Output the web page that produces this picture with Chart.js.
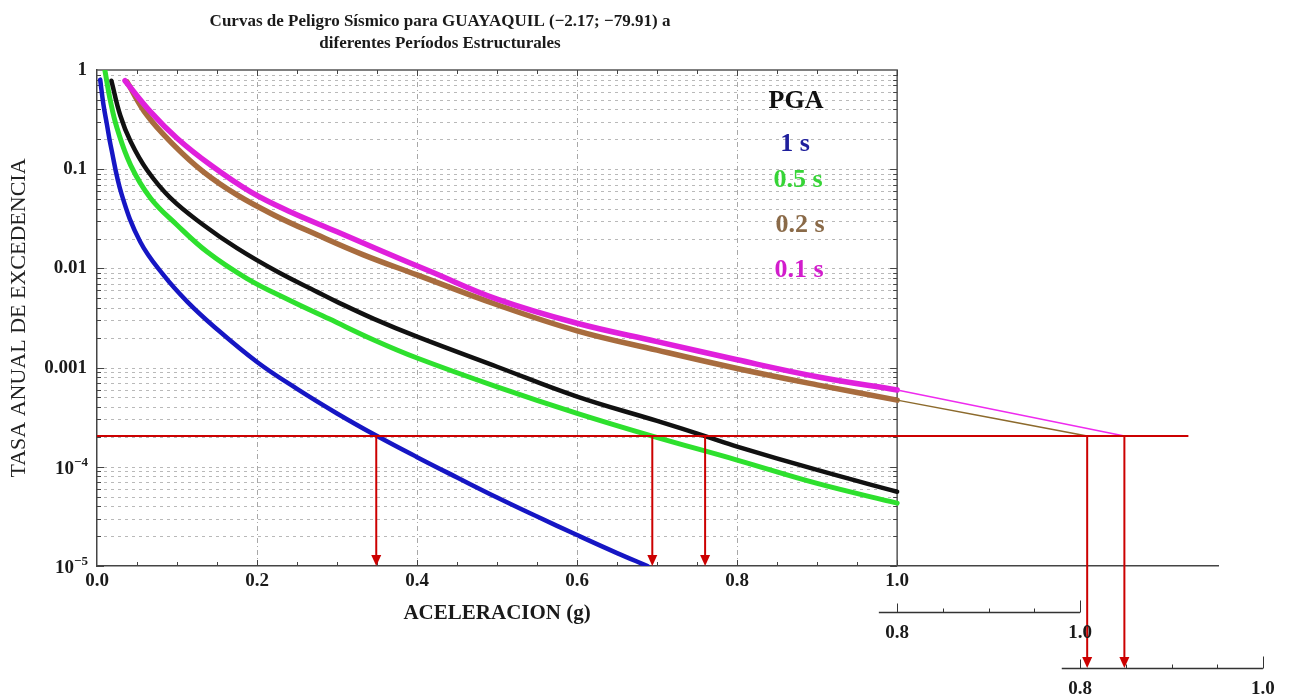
<!DOCTYPE html>
<html>
<head>
<meta charset="utf-8">
<script src="https://cdn.jsdelivr.net/npm/chart.js@4/dist/chart.umd.min.js"></script>
<style>
  html, body { margin: 0; padding: 0; background: #ffffff; }
  canvas { display: block; }
</style>
</head>
<body>
<canvas id="hazard" width="1295" height="698"></canvas>
<script>
// Hazard curves: annual exceedance rate vs spectral acceleration (g)
const pgaX   = [0.018, 0.029, 0.042, 0.0625, 0.092, 0.133, 0.175, 0.225, 0.275, 0.3, 0.346, 0.4, 0.5, 0.6, 0.7, 0.76, 0.8, 0.9, 1.0];
const pgaY   = [0.78, 0.35, 0.19, 0.098, 0.051, 0.0274, 0.016, 0.0093, 0.0058, 0.0046, 0.0031, 0.00205, 0.00102, 5.1e-4, 2.9e-4, 2.04e-4, 1.6e-4, 9.3e-5, 5.6e-5];

const t10X   = [0.004, 0.008, 0.0125, 0.017, 0.031, 0.054, 0.083, 0.113, 0.146, 0.2, 0.25, 0.3, 0.35, 0.4, 0.45, 0.5, 0.55, 0.6, 0.65, 0.688];
const t10Y   = [0.8, 0.45, 0.28, 0.175, 0.055, 0.0186, 0.0086, 0.0046, 0.0026, 0.00114, 6.1e-4, 3.45e-4, 2.04e-4, 1.25e-4, 7.8e-5, 4.9e-5, 3.15e-5, 2.05e-5, 1.35e-5, 1.0e-5];

const t05X   = [0.0098, 0.0167, 0.025, 0.042, 0.067, 0.1, 0.1375, 0.1875, 0.24, 0.29, 0.346, 0.4, 0.5, 0.6, 0.694, 0.8, 0.9, 1.0];
const t05Y   = [1.0, 0.49, 0.26, 0.11, 0.051, 0.0274, 0.0147, 0.0079, 0.0048, 0.0031, 0.0019, 0.00125, 6.4e-4, 3.46e-4, 2.04e-4, 1.17e-4, 6.8e-5, 4.3e-5];

const t02X   = [0.0375, 0.0625, 0.096, 0.133, 0.175, 0.221, 0.275, 0.333, 0.4, 0.5, 0.6, 0.7, 0.8, 0.9, 1.0];
const t02Y   = [0.76, 0.35, 0.175, 0.094, 0.055, 0.0346, 0.0218, 0.0137, 0.0086, 0.0043, 0.00235, 0.0015, 9.8e-4, 6.7e-4, 4.7e-4];

const t01X   = [0.035, 0.0667, 0.1, 0.142, 0.192, 0.242, 0.3, 0.358, 0.417, 0.5, 0.6, 0.7, 0.8, 0.9, 1.0];
const t01Y   = [0.78, 0.38, 0.205, 0.11, 0.059, 0.037, 0.0234, 0.0147, 0.0093, 0.0049, 0.0028, 0.00183, 0.0012, 8.1e-4, 5.95e-4];

// Continuations of the 0.2 s and 0.1 s curves down to the design rate
const ext02X = [1.0, 1.2375];
const ext02Y = [4.7e-4, 2.04e-4];
const ext01X = [1.0, 1.284];
const ext01Y = [5.95e-4, 2.04e-4];

// Design exceedance rate and the accelerations
const designRate = 2.04e-4;
const rateLineX  = [0, 1.364];
const readX      = [0.349, 0.694, 0.76, 1.2375, 1.284];
const readOnSub  = [false, false, false, true, true];

// Axis ticks
const xTickValues = [0, 0.2, 0.4, 0.6, 0.8, 1.0];
const xTickLabels = ['0.0', '0.2', '0.4', '0.6', '0.8', '1.0'];
const yTickValues = [1, 0.1, 0.01, 0.001, 1e-4, 1e-5];
const yTickLabels = ['1', '0.1', '0.01', '0.001', '10^\u22124', '10^\u22125'];

// Auxiliary acceleration scales under the main axis
const subTicks   = [0.8, 0.85, 0.9, 0.95, 1.0];
const subLabels  = ['0.8', '', '', '', '1.0'];
const subOrigins = [1.0, 1.2286];

const legendLabels = ['PGA', '1 s', '0.5 s', '0.2 s', '0.1 s'];
const legendColors = ['#111111', '#1f1f9c', '#36d436', '#8a6a48', '#d21ccc'];

const titleLines = [
  'Curvas de Peligro S\u00edsmico para GUAYAQUIL (\u22122.17; \u221279.91) a',
  'diferentes Per\u00edodos Estructurales'
];

const SERIF = '"Liberation Serif", "DejaVu Serif", serif';
const zip = (xs, ys) => xs.map((x, i) => ({ x: x, y: ys[i] }));

function curve(label, xs, ys, color, width, order) {
  return {
    label: label, data: zip(xs, ys), borderColor: color, backgroundColor: color,
    borderWidth: width, pointRadius: 0, showLine: true, fill: false,
    tension: 0.4, order: order, borderCapStyle: 'round', borderJoinStyle: 'round'
  };
}

const datasets = [
  {
    label: 'tasa de diseño', data: zip(rateLineX, rateLineX.map(() => designRate)),
    borderColor: '#cc0000', borderWidth: 2, pointRadius: 0, showLine: true, fill: false,
    order: 0, clip: false
  },
  curve('0.1 s (ext)', ext01X, ext01Y, '#ee2cee', 1.5, 1),
  curve('0.2 s (ext)', ext02X, ext02Y, '#8c6a2c', 1.5, 1),
  curve('0.1 s', t01X, t01Y, '#e020dc', 5.5, 2),
  curve('0.2 s', t02X, t02Y, '#a86c3e', 5.5, 3),
  curve('PGA', pgaX, pgaY, '#111111', 4.5, 4),
  curve('0.5 s', t05X, t05Y, '#2ee02e', 5, 5),
  curve('1 s', t10X, t10Y, '#1616c4', 4.5, 6)
];
datasets[1].clip = false;
datasets[2].clip = false;

// Grid, frame and tick marks restricted to the 0–1.0 g panel
const panelPlugin = {
  id: 'panel',
  beforeDatasetsDraw(chart) {
    const ctx = chart.ctx, xs = chart.scales.x, ys = chart.scales.y;
    const L = xs.getPixelForValue(0), R = xs.getPixelForValue(1.0);
    const T = ys.getPixelForValue(1), B = ys.getPixelForValue(1e-5);
    ctx.save();
    ctx.lineWidth = 1;
    ctx.strokeStyle = '#b9b9b9';
    ctx.setLineDash([3, 4]);
    for (let k = -5; k <= -1; k++) {
      for (let m = 1; m <= 9; m++) {
        if (k === -5 && m === 1) continue;
        const y = Math.round(ys.getPixelForValue(m * Math.pow(10, k))) + 0.5;
        ctx.beginPath(); ctx.moveTo(L, y); ctx.lineTo(R, y); ctx.stroke();
      }
    }
    ctx.strokeStyle = '#a8a8a8';
    ctx.setLineDash([5, 3, 1, 3]);
    [0.2, 0.4, 0.6, 0.8].forEach(v => {
      const x = Math.round(xs.getPixelForValue(v)) + 0.5;
      ctx.beginPath(); ctx.moveTo(x, T); ctx.lineTo(x, B); ctx.stroke();
    });
    ctx.setLineDash([]);
    // frame (top and right)
    ctx.strokeStyle = '#555555';
    ctx.lineWidth = 1.5;
    ctx.beginPath(); ctx.moveTo(L, T); ctx.lineTo(R, T); ctx.lineTo(R, B); ctx.stroke();
    // tick marks pointing inward
    ctx.lineWidth = 1;
    ctx.strokeStyle = '#444444';
    for (let i = 1; i <= 20; i++) {
      const v = i * 0.05;
      const x = Math.round(xs.getPixelForValue(v)) + 0.5;
      const len = (i % 4 === 0) ? 6 : 4;
      ctx.beginPath(); ctx.moveTo(x, B); ctx.lineTo(x, B - len); ctx.stroke();
      ctx.beginPath(); ctx.moveTo(x, T); ctx.lineTo(x, T + len); ctx.stroke();
    }
    for (let k = -5; k <= -1; k++) {
      for (let m = 1; m <= 9; m++) {
        const y = Math.round(ys.getPixelForValue(m * Math.pow(10, k))) + 0.5;
        const len = m === 1 ? 7 : 4;
        ctx.beginPath(); ctx.moveTo(L, y); ctx.lineTo(L + len, y); ctx.stroke();
        ctx.beginPath(); ctx.moveTo(R, y); ctx.lineTo(R - len, y); ctx.stroke();
      }
    }
    ctx.restore();
  },
  afterDatasetsDraw(chart) {
    const ctx = chart.ctx, xs = chart.scales.x, ys = chart.scales.y;
    const top = ys.getPixelForValue(designRate);
    const axisB = ys.getPixelForValue(1e-5);
    const subB = chart.chartArea.bottom + 102;
    ctx.save();
    ctx.strokeStyle = '#cc0000';
    ctx.fillStyle = '#cc0000';
    ctx.lineWidth = 2;
    readX.forEach((v, i) => {
      const x = xs.getPixelForValue(v);
      const tip = readOnSub[i] ? subB : axisB;
      ctx.beginPath(); ctx.moveTo(x, top); ctx.lineTo(x, tip - 9); ctx.stroke();
      ctx.beginPath();
      ctx.moveTo(x, tip); ctx.lineTo(x - 5, tip - 11); ctx.lineTo(x + 5, tip - 11);
      ctx.closePath(); ctx.fill();
    });
    ctx.restore();
  },
  afterDraw(chart) {
    const ctx = chart.ctx, xs = chart.scales.x, ys = chart.scales.y;
    const area = chart.chartArea;
    ctx.save();
    // title
    ctx.fillStyle = '#1a1a1a';
    ctx.font = 'bold 17px ' + SERIF;
    ctx.textAlign = 'center';
    ctx.textBaseline = 'alphabetic';
    ctx.fillText(titleLines[0], 440, 26);
    ctx.fillText(titleLines[1], 440, 48);
    // x-axis title
    ctx.font = 'bold 21px ' + SERIF;
    ctx.fillText('ACELERACION (g)', (xs.getPixelForValue(0) + xs.getPixelForValue(1.0)) / 2, 619);
    // power-of-ten y labels
    yTickLabels.forEach((lab, i) => {
      if (lab.indexOf('^') < 0) return;
      const parts = lab.split('^');
      const y = ys.getPixelForValue(yTickValues[i]);
      ctx.textAlign = 'right';
      ctx.font = 'bold 13px ' + SERIF;
      const ew = ctx.measureText(parts[1]).width;
      ctx.fillText(parts[1], 88, y - 1);
      ctx.font = 'bold 19px ' + SERIF;
      ctx.fillText(parts[0], 88 - ew, y + 7);
    });
    // legend
    ctx.font = 'bold 26px ' + SERIF;
    ctx.textAlign = 'center';
    const legY = [108, 151, 187, 232, 277];
    const legX = [796, 795, 798, 800, 799];
    legendLabels.forEach((lab, i) => {
      ctx.fillStyle = legendColors[i];
      ctx.fillText(lab, legX[i], legY[i]);
    });
    // auxiliary acceleration scales
    const factor = 1.143;
    const offsets = [46, 102];
    subOrigins.forEach((origin, j) => {
      const y = Math.round(area.bottom + offsets[j]) + 0.5;
      const px = v => xs.getPixelForValue(origin + (v - 0.8) * factor);
      ctx.strokeStyle = '#333333';
      ctx.lineWidth = 1.5;
      ctx.beginPath(); ctx.moveTo(px(0.78), y); ctx.lineTo(px(1.0), y); ctx.stroke();
      ctx.lineWidth = 1;
      subTicks.forEach((v, i) => {
        const x = Math.round(px(v)) + 0.5;
        const len = i === subTicks.length - 1 ? 12 : (i === 0 ? 9 : 4);
        ctx.beginPath(); ctx.moveTo(x, y); ctx.lineTo(x, y - len); ctx.stroke();
      });
      ctx.fillStyle = '#1a1a1a';
      ctx.font = 'bold 19px ' + SERIF;
      ctx.textAlign = 'center';
      subTicks.forEach((v, i) => {
        if (subLabels[i]) ctx.fillText(subLabels[i], px(v), y + 25);
      });
    });
    ctx.restore();
  }
};

new Chart(document.getElementById('hazard'), {
  type: 'scatter',
  data: { datasets: datasets },
  plugins: [panelPlugin],
  options: {
    responsive: false,
    devicePixelRatio: 1,
    animation: false,
    layout: { padding: { top: 70, right: 77, left: 0, bottom: 0 } },
    plugins: { legend: { display: false }, title: { display: false }, tooltip: { enabled: false } },
    scales: {
      x: {
        type: 'linear', min: 0, max: 1.401,
        afterBuildTicks: axis => { axis.ticks = xTickValues.map(v => ({ value: v })); },
        afterFit: axis => { axis.height = 132; },
        grid: { display: false, drawTicks: false },
        border: { display: true, color: '#444444', width: 1.5 },
        ticks: {
          autoSkip: false, maxRotation: 0, padding: 4, color: '#1a1a1a',
          font: { family: SERIF, size: 19, weight: 'bold' },
          callback: (v, i) => xTickLabels[i]
        }
      },
      y: {
        type: 'logarithmic', min: 1e-5, max: 1,
        afterBuildTicks: axis => { axis.ticks = yTickValues.map(v => ({ value: v })); },
        afterFit: axis => { axis.width = 97; },
        grid: { display: false, drawTicks: false },
        border: { display: true, color: '#444444', width: 1.5 },
        title: {
          display: true, text: 'TASA ANUAL DE EXCEDENCIA', color: '#222222',
          font: { family: SERIF, size: 22, weight: 'normal' }, padding: { top: 6, bottom: 0 }
        },
        ticks: {
          autoSkip: false, padding: 10, color: '#1a1a1a',
          font: { family: SERIF, size: 19, weight: 'bold' },
          callback: (v, i) => (yTickLabels[i].indexOf('^') >= 0 ? '' : yTickLabels[i])
        }
      }
    }
  }
});
</script>
</body>
</html>
